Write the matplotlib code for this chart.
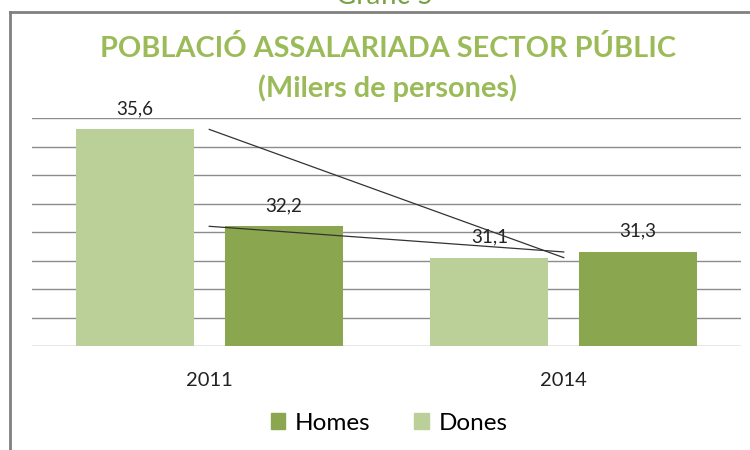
import matplotlib
matplotlib.use("Agg")
import matplotlib.pyplot as plt
from matplotlib.patches import Patch
from matplotlib.lines import Line2D

years = ["2011", "2014"]
dones = [35.6, 31.1]
homes = [32.2, 31.3]
dones_labels = ["35,6", "31,1"]
homes_labels = ["32,2", "31,3"]

c_homes = "#8AA64E"
c_dones = "#BBCF98"
c_title = "#9BBB59"
c_grid = "#8C8C8C"

plt.rcParams['font.family'] = ['Lato', 'DejaVu Sans']

W, H = 750, 450
fig = plt.figure(figsize=(7.5, 4.5), dpi=100)
ax = fig.add_axes([32 / W, 1 - 346 / H, (741 - 32) / W, (346 - 118) / H])

x = list(range(len(years)))
bw = 0.333
off = 0.21
xd = [i - off for i in x]
xh = [i + off for i in x]
ax.bar(xd, dones, width=bw, color=c_dones, zorder=2)
ax.bar(xh, homes, width=bw, color=c_homes, zorder=2)

for xi, v, s in zip(xd, dones, dones_labels):
    ax.annotate(s, (xi, v), xytext=(0, 15), textcoords="offset points",
                ha="center", va="center", fontsize=13.5, color="#222222")
for xi, v, s in zip(xh, homes, homes_labels):
    ax.annotate(s, (xi, v), xytext=(0, 15), textcoords="offset points",
                ha="center", va="center", fontsize=13.5, color="#222222")

# hand drawn trend lines
ax.plot(x, dones, color="#333333", lw=0.9, zorder=3)
ax.plot(x, homes, color="#333333", lw=0.9, zorder=3)

ax.set_xlim(-0.5, 1.5)
ax.set_ylim(28, 36)
ax.set_yticks(range(28, 37))
ax.yaxis.grid(True, color=c_grid, lw=1, zorder=0)
ax.tick_params(axis="y", left=False, labelleft=False)
ax.tick_params(axis="x", bottom=False, labelsize=14.5, pad=15, colors="#222222")
ax.set_xticks(x)
ax.set_xticklabels(years)
for sp in ["top", "right", "left", "bottom"]:
    ax.spines[sp].set_visible(False)

fig.text(388 / W, 1 - 57 / H, "POBLACIÓ ASSALARIADA SECTOR PÚBLIC", ha="center",
         va="baseline", fontsize=20.8, fontweight="bold", color=c_title)
fig.text(388 / W, 1 - 97 / H, "(Milers de persones)", ha="center",
         va="baseline", fontsize=20.8, fontweight="bold", color=c_title)
fig.text(385 / W, 1 - 4 / H, "Gràfic 5", ha="center", va="baseline",
         fontsize=20, color="#77A047")

handles = [Patch(color=c_homes), Patch(color=c_dones)]
fig.legend(handles, ["Homes", "Dones"], loc="center", bbox_to_anchor=(389 / W, 1 - 423 / H),
           ncol=2, frameon=False, fontsize=17.5, handlelength=0.6, handleheight=0.6,
           handletextpad=0.4, columnspacing=1.8)

# outer frame of the chart
fig.add_artist(Line2D([10 / W, 10 / W], [0, 1 - 12 / H], transform=fig.transFigure, color="#808080", lw=2))
fig.add_artist(Line2D([10 / W, 1], [1 - 12 / H, 1 - 12 / H], transform=fig.transFigure, color="#808080", lw=2))

fig.savefig("out.png", dpi=100)
